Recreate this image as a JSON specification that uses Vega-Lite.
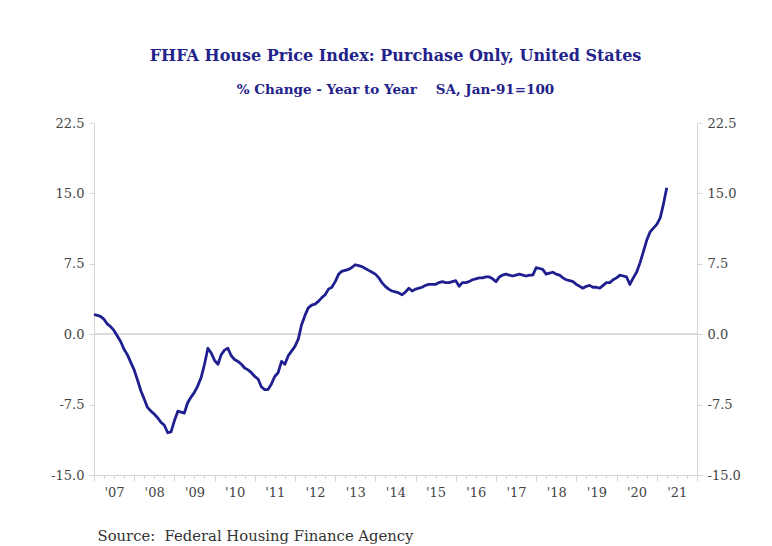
{
  "$schema": "https://vega.github.io/schema/vega-lite/v6.json",
  "width": 603,
  "height": 352,
  "autosize": "none",
  "padding": {"left": 94, "top": 123, "right": 75, "bottom": 71},
  "background": "white",
  "title": {
    "text": "FHFA House Price Index: Purchase Only, United States",
    "subtitle": "% Change - Year to Year\u00a0\u00a0\u00a0\u00a0SA, Jan-91=100",
    "anchor": "middle",
    "frame": "group",
    "font": "DejaVu Serif",
    "fontSize": 16,
    "fontWeight": "bold",
    "color": "#22228a",
    "subtitleFont": "DejaVu Serif",
    "subtitleFontSize": 13.5,
    "subtitleFontWeight": "bold",
    "subtitleColor": "#22228a",
    "subtitlePadding": 19,
    "offset": 21
  },
  "config": {
    "view": {"stroke": null},
    "axis": {
      "labelFont": "DejaVu Serif",
      "labelFontSize": 13,
      "labelColor": "#444444",
      "domainColor": "#d4d4d4",
      "tickColor": "#d4d4d4",
      "grid": false
    }
  },
  "data": {"values": [
    {"d":"2007-01-01","v":2.1},{"d":"2007-02-01","v":2.0},{"d":"2007-03-01","v":1.9},{"d":"2007-04-01","v":1.6},{"d":"2007-05-01","v":1.1},{"d":"2007-06-01","v":0.8},{"d":"2007-07-01","v":0.4},{"d":"2007-08-01","v":-0.2},{"d":"2007-09-01","v":-0.8},{"d":"2007-10-01","v":-1.6},{"d":"2007-11-01","v":-2.2},{"d":"2007-12-01","v":-3.0},
    {"d":"2008-01-01","v":-3.8},{"d":"2008-02-01","v":-4.9},{"d":"2008-03-01","v":-6.0},{"d":"2008-04-01","v":-6.9},{"d":"2008-05-01","v":-7.8},{"d":"2008-06-01","v":-8.2},{"d":"2008-07-01","v":-8.5},{"d":"2008-08-01","v":-8.9},{"d":"2008-09-01","v":-9.4},{"d":"2008-10-01","v":-9.7},{"d":"2008-11-01","v":-10.5},{"d":"2008-12-01","v":-10.4},
    {"d":"2009-01-01","v":-9.2},{"d":"2009-02-01","v":-8.2},{"d":"2009-03-01","v":-8.3},{"d":"2009-04-01","v":-8.4},{"d":"2009-05-01","v":-7.3},{"d":"2009-06-01","v":-6.7},{"d":"2009-07-01","v":-6.2},{"d":"2009-08-01","v":-5.5},{"d":"2009-09-01","v":-4.6},{"d":"2009-10-01","v":-3.2},{"d":"2009-11-01","v":-1.5},{"d":"2009-12-01","v":-2.0},
    {"d":"2010-01-01","v":-2.8},{"d":"2010-02-01","v":-3.2},{"d":"2010-03-01","v":-2.2},{"d":"2010-04-01","v":-1.7},{"d":"2010-05-01","v":-1.5},{"d":"2010-06-01","v":-2.3},{"d":"2010-07-01","v":-2.7},{"d":"2010-08-01","v":-2.9},{"d":"2010-09-01","v":-3.2},{"d":"2010-10-01","v":-3.6},{"d":"2010-11-01","v":-3.8},{"d":"2010-12-01","v":-4.1},
    {"d":"2011-01-01","v":-4.5},{"d":"2011-02-01","v":-4.8},{"d":"2011-03-01","v":-5.6},{"d":"2011-04-01","v":-5.9},{"d":"2011-05-01","v":-5.9},{"d":"2011-06-01","v":-5.3},{"d":"2011-07-01","v":-4.5},{"d":"2011-08-01","v":-4.1},{"d":"2011-09-01","v":-2.9},{"d":"2011-10-01","v":-3.2},{"d":"2011-11-01","v":-2.3},{"d":"2011-12-01","v":-1.8},
    {"d":"2012-01-01","v":-1.3},{"d":"2012-02-01","v":-0.5},{"d":"2012-03-01","v":1.0},{"d":"2012-04-01","v":2.0},{"d":"2012-05-01","v":2.8},{"d":"2012-06-01","v":3.1},{"d":"2012-07-01","v":3.2},{"d":"2012-08-01","v":3.5},{"d":"2012-09-01","v":3.9},{"d":"2012-10-01","v":4.2},{"d":"2012-11-01","v":4.8},{"d":"2012-12-01","v":5.0},
    {"d":"2013-01-01","v":5.6},{"d":"2013-02-01","v":6.4},{"d":"2013-03-01","v":6.7},{"d":"2013-04-01","v":6.8},{"d":"2013-05-01","v":6.9},{"d":"2013-06-01","v":7.1},{"d":"2013-07-01","v":7.4},{"d":"2013-08-01","v":7.3},{"d":"2013-09-01","v":7.2},{"d":"2013-10-01","v":7.0},{"d":"2013-11-01","v":6.8},{"d":"2013-12-01","v":6.6},
    {"d":"2014-01-01","v":6.4},{"d":"2014-02-01","v":6.0},{"d":"2014-03-01","v":5.5},{"d":"2014-04-01","v":5.1},{"d":"2014-05-01","v":4.8},{"d":"2014-06-01","v":4.6},{"d":"2014-07-01","v":4.5},{"d":"2014-08-01","v":4.4},{"d":"2014-09-01","v":4.2},{"d":"2014-10-01","v":4.5},{"d":"2014-11-01","v":4.9},{"d":"2014-12-01","v":4.6},
    {"d":"2015-01-01","v":4.8},{"d":"2015-02-01","v":4.9},{"d":"2015-03-01","v":5.0},{"d":"2015-04-01","v":5.2},{"d":"2015-05-01","v":5.3},{"d":"2015-06-01","v":5.3},{"d":"2015-07-01","v":5.3},{"d":"2015-08-01","v":5.5},{"d":"2015-09-01","v":5.6},{"d":"2015-10-01","v":5.5},{"d":"2015-11-01","v":5.5},{"d":"2015-12-01","v":5.6},
    {"d":"2016-01-01","v":5.7},{"d":"2016-02-01","v":5.1},{"d":"2016-03-01","v":5.5},{"d":"2016-04-01","v":5.5},{"d":"2016-05-01","v":5.6},{"d":"2016-06-01","v":5.8},{"d":"2016-07-01","v":5.9},{"d":"2016-08-01","v":6.0},{"d":"2016-09-01","v":6.0},{"d":"2016-10-01","v":6.1},{"d":"2016-11-01","v":6.1},{"d":"2016-12-01","v":5.9},
    {"d":"2017-01-01","v":5.6},{"d":"2017-02-01","v":6.1},{"d":"2017-03-01","v":6.3},{"d":"2017-04-01","v":6.4},{"d":"2017-05-01","v":6.3},{"d":"2017-06-01","v":6.2},{"d":"2017-07-01","v":6.3},{"d":"2017-08-01","v":6.4},{"d":"2017-09-01","v":6.3},{"d":"2017-10-01","v":6.2},{"d":"2017-11-01","v":6.3},{"d":"2017-12-01","v":6.3},
    {"d":"2018-01-01","v":7.1},{"d":"2018-02-01","v":7.0},{"d":"2018-03-01","v":6.9},{"d":"2018-04-01","v":6.4},{"d":"2018-05-01","v":6.5},{"d":"2018-06-01","v":6.6},{"d":"2018-07-01","v":6.4},{"d":"2018-08-01","v":6.3},{"d":"2018-09-01","v":6.0},{"d":"2018-10-01","v":5.8},{"d":"2018-11-01","v":5.7},{"d":"2018-12-01","v":5.6},
    {"d":"2019-01-01","v":5.3},{"d":"2019-02-01","v":5.1},{"d":"2019-03-01","v":4.9},{"d":"2019-04-01","v":5.1},{"d":"2019-05-01","v":5.2},{"d":"2019-06-01","v":5.0},{"d":"2019-07-01","v":5.0},{"d":"2019-08-01","v":4.9},{"d":"2019-09-01","v":5.2},{"d":"2019-10-01","v":5.5},{"d":"2019-11-01","v":5.5},{"d":"2019-12-01","v":5.8},
    {"d":"2020-01-01","v":6.0},{"d":"2020-02-01","v":6.3},{"d":"2020-03-01","v":6.2},{"d":"2020-04-01","v":6.1},{"d":"2020-05-01","v":5.3},{"d":"2020-06-01","v":6.0},{"d":"2020-07-01","v":6.6},{"d":"2020-08-01","v":7.6},{"d":"2020-09-01","v":8.8},{"d":"2020-10-01","v":10.0},{"d":"2020-11-01","v":10.9},{"d":"2020-12-01","v":11.3},
    {"d":"2021-01-01","v":11.7},{"d":"2021-02-01","v":12.4},{"d":"2021-03-01","v":13.8},{"d":"2021-04-01","v":15.6}
  ]},
  "layer": [
    {
      "mark": {"type": "rule", "color": "#dcdcdc", "strokeWidth": 1},
      "encoding": {
        "y": {
          "datum": 0,
          "type": "quantitative",
          "scale": {"domain": [-15, 22.5], "nice": false, "zero": false},
          "axis": {
            "orient": "right",
            "values": [-15, -7.5, 0, 7.5, 15, 22.5],
            "format": ".1f",
            "labelExpr": "replace(datum.label, '\u2212', '-')",
            "title": null,
            "tickSize": 5,
            "labelPadding": 5
          }
        }
      }
    },
    {
      "mark": {"type": "line", "color": "#1f1f8f", "strokeWidth": 2.8, "strokeJoin": "round"},
      "encoding": {
        "x": {
          "field": "d",
          "type": "temporal",
          "scale": {"type": "utc", "domain": [{"year": 2007, "month": 1, "date": 1, "utc": true}, {"year": 2022, "month": 1, "date": 1, "utc": true}]},
          "axis": {
            "orient": "bottom",
            "values": [
              {"year": 2007, "month": 1, "date": 1, "utc": true},{"year": 2008, "month": 1, "date": 1, "utc": true},{"year": 2009, "month": 1, "date": 1, "utc": true},{"year": 2010, "month": 1, "date": 1, "utc": true},{"year": 2011, "month": 1, "date": 1, "utc": true},{"year": 2012, "month": 1, "date": 1, "utc": true},{"year": 2013, "month": 1, "date": 1, "utc": true},{"year": 2014, "month": 1, "date": 1, "utc": true},{"year": 2015, "month": 1, "date": 1, "utc": true},{"year": 2016, "month": 1, "date": 1, "utc": true},{"year": 2017, "month": 1, "date": 1, "utc": true},{"year": 2018, "month": 1, "date": 1, "utc": true},{"year": 2019, "month": 1, "date": 1, "utc": true},{"year": 2020, "month": 1, "date": 1, "utc": true},{"year": 2021, "month": 1, "date": 1, "utc": true},{"year": 2022, "month": 1, "date": 1, "utc": true}
            ],
            "format": "'%y",
            "labelExpr": "utcyear(datum.value) > 2021 ? '' : datum.label",
            "labelOffset": 20,
            "labelAlign": "center",
            "labelFlush": false,
            "labelOverlap": false,
            "tickSize": 6,
            "labelPadding": 5,
            "title": "Source:\u00a0\u00a0Federal Housing Finance Agency",
            "titleFont": "DejaVu Serif",
            "titleFontSize": 14.8,
            "titleFontWeight": "normal",
            "titleColor": "#333333",
            "titleAnchor": "start",
            "titleAlign": "left",
            "titleBaseline": "alphabetic",
            "titleX": 3,
            "titleY": 65
          }
        },
        "y": {
          "field": "v",
          "type": "quantitative",
          "scale": {"domain": [-15, 22.5], "nice": false, "zero": false},
          "axis": {
            "orient": "left",
            "values": [-15, -7.5, 0, 7.5, 15, 22.5],
            "format": ".1f",
            "labelExpr": "replace(datum.label, '\u2212', '-')",
            "title": null,
            "tickSize": 5,
            "labelPadding": 5
          }
        }
      }
    },
    {
      "mark": {"type": "line", "opacity": 0},
      "encoding": {
        "x": {
          "field": "d",
          "type": "temporal",
          "axis": {
            "orient": "bottom",
            "tickCount": {"interval": "month", "step": 3},
            "labels": false,
            "domain": false,
            "tickSize": 3,
            "title": null
          }
        },
        "y": {"field": "v", "type": "quantitative", "axis": null}
      }
    }
  ],
  "resolve": {"axis": {"x": "independent", "y": "independent"}}
}
